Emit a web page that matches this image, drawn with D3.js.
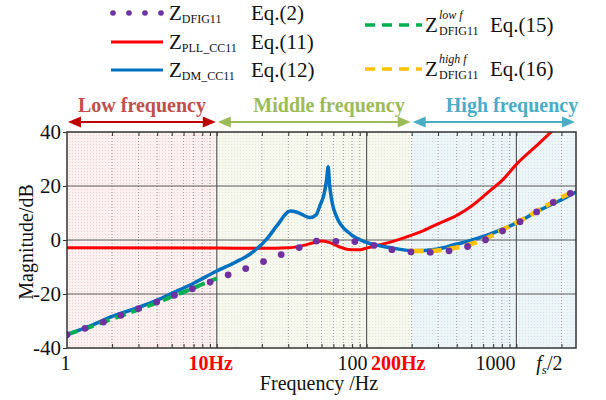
<!DOCTYPE html>
<html>
<head>
<meta charset="utf-8">
<script src="https://cdn.jsdelivr.net/npm/d3@7"></script>
<style>
  body { margin: 0; background: #fff; }
  svg text { font-family: "Liberation Serif", "Times New Roman", serif; }
</style>
</head>
<body>
<svg width="606" height="400"></svg>
<script>
// ---- data ----
const dfigF  = [1, 1.32, 1.75, 2.29, 3.0, 3.97, 5.21, 6.87, 9.02, 11.9, 15.6, 20.5, 26.9, 35.5, 46.3, 62.4, 83.5, 112, 147.6, 197.7, 266, 355, 472, 622, 809, 1057, 1365, 1763, 2290];
const dfigDb = [-35.1, -32.7, -30.4, -27.9, -25.4, -23.0, -20.5, -18.1, -15.6, -12.9, -10.6, -8.0, -5.4, -2.8, -0.4, -0.5, -0.6, -2.0, -3.6, -4.4, -4.6, -4.0, -2.4, 0.1, 3.4, 6.8, 10.4, 13.9, 17.3];

const pllF  = [1, 10, 20, 30, 38, 45, 50, 56, 65, 75, 90, 100, 120, 150, 200, 240, 300, 400, 500, 670, 800, 1000, 1400, 1800, 2500];
const pllDb = [-2.9, -3.0, -3.1, -2.9, -2.0, -0.9, -0.4, -0.9, -2.4, -3.5, -3.6, -3.0, -1.9, -0.5, 1.8, 3.5, 6.0, 9.1, 12.5, 18.4, 22.0, 28.0, 35.5, 41.2, 48];

const dmF  = [1, 1.5, 2, 3, 4, 5, 7, 10, 13, 16.7, 21.6, 25.2, 31, 34.3, 42, 46, 49, 52, 54, 55.4, 56.5, 58.5, 63.3, 78, 100, 143, 205, 292, 400, 489, 817, 1057, 1400, 1963, 2500];
const dmDb = [-35, -31.3, -28.3, -25, -22.3, -19.8, -16, -11.5, -8.5, -5.2, 0.4, 5.3, 10.7, 10.3, 8.3, 9.3, 13, 17, 22, 27.1, 21, 14.7, 8.4, 2.2, -0.9, -2.8, -4.0, -3.4, -1.5, -0.3, 4.1, 7.0, 10.8, 14.7, 17.8];

const lowF  = [1, 1.5, 2, 3, 4, 5, 6, 7, 8, 9, 10];
const lowDb = [-35, -31.8, -29.2, -25.8, -23.2, -21, -19.3, -17.8, -16.4, -15.2, -14.2];

const highF  = [200, 264, 355, 472, 622, 809, 1057, 1365, 1763, 2290, 2500];
const highDb = [-4.0, -4.1, -3.3, -1.8, 0.5, 3.8, 7.1, 10.6, 14.2, 17.3, 18.0];

const yTicks = [-40, -20, 0, 20, 40];
const xLabelValues = [1, 10, 100, 200, 1000, 2000];
const xLabelText = ["1", "10Hz", "100", "200Hz", "1000", "fs/2"];
const bands = [
  { from: 1, to: 10, name: "Low frequency" },
  { from: 10, to: 200, name: "Middle frequency" },
  { from: 200, to: 2500, name: "High frequency" }
];

const svg = d3.select("svg");
const pL = 67, pR = 576, pT = 132, pB = 348;
const serif = "Liberation Serif";

const x = d3.scaleLog().domain([1, 2500]).range([pL, pR]);
const y = d3.scaleLinear().domain([-40, 40]).range([pB, pT]);

// background patterns
const defs = svg.append("defs");
const bandStyle = [
  { base: "#fdf0f0", dot: "#efd0d0", arrow: "#c00000", text: "#c0504d", textX: 142 },
  { base: "#f6f8ef", dot: "#e0e8cf", arrow: "#9bbb59", text: "#9bbb59", textX: 329 },
  { base: "#edf5f9", dot: "#d2e4ee", arrow: "#4bacc6", text: "#4bacc6", textX: 512 }
];
bandStyle.forEach((s, i) => {
  const p = defs.append("pattern").attr("id", "pat" + i)
    .attr("width", 3).attr("height", 3).attr("patternUnits", "userSpaceOnUse");
  p.append("rect").attr("width", 3).attr("height", 3).attr("fill", s.base);
  p.append("rect").attr("width", 1).attr("height", 1).attr("fill", s.dot);
});
defs.append("clipPath").attr("id", "clip")
  .append("rect").attr("x", pL).attr("y", pT).attr("width", pR - pL).attr("height", pB - pT);

svg.selectAll(".band")
  .data(bands)
  .enter().append("rect")
  .attr("x", d => x(d.from))
  .attr("y", pT)
  .attr("width", d => x(d.to) - x(d.from))
  .attr("height", pB - pT)
  .attr("fill", (d, i) => "url(#pat" + i + ")");

// grid
const minor = [];
[1, 10, 100, 1000].forEach(dec => {
  for (let k = 2; k <= 9; k++) if (dec * k < 2500) minor.push(dec * k);
});
svg.append("g").selectAll("line")
  .data(minor)
  .enter().append("line")
  .attr("x1", d => x(d)).attr("x2", d => x(d))
  .attr("y1", pT).attr("y2", pB)
  .attr("stroke", "#9a9a9a").attr("stroke-width", 1)
  .attr("stroke-dasharray", "1,2");

svg.append("g").selectAll("line")
  .data([10, 100, 1000])
  .enter().append("line")
  .attr("x1", d => x(d)).attr("x2", d => x(d))
  .attr("y1", pT).attr("y2", pB)
  .attr("stroke", "#5a5a5a").attr("stroke-width", 1.2);

svg.append("g").selectAll("line")
  .data([-20, 0, 20])
  .enter().append("line")
  .attr("x1", pL).attr("x2", pR)
  .attr("y1", d => y(d)).attr("y2", d => y(d))
  .attr("stroke", "#5a5a5a").attr("stroke-width", 1.2);

// inward ticks top and bottom
const allTicks = minor.concat([10, 100, 1000]);
svg.append("g")
  .attr("transform", "translate(0," + pB + ")")
  .call(d3.axisBottom(x).tickValues(allTicks).tickSize(-4).tickFormat(""))
  .call(g => g.select(".domain").remove())
  .call(g => g.selectAll("line").attr("stroke", "#333"));
svg.append("g")
  .attr("transform", "translate(0," + pT + ")")
  .call(d3.axisTop(x).tickValues(allTicks).tickSize(-4).tickFormat(""))
  .call(g => g.select(".domain").remove())
  .call(g => g.selectAll("line").attr("stroke", "#333"));

// curves
const line = (fs, dbs) => d3.line()
  .x((d, i) => x(fs[i]))
  .y(d => y(d))
  .curve(d3.curveMonotoneX)(dbs);

const plot = svg.append("g").attr("clip-path", "url(#clip)");

plot.append("path").attr("d", line(pllF, pllDb))
  .attr("fill", "none").attr("stroke", "#ff0000").attr("stroke-width", 3);

plot.append("path").attr("d", line(dmF, dmDb))
  .attr("fill", "none").attr("stroke", "#0070c0").attr("stroke-width", 3.5);

plot.append("path").attr("d", line(lowF, lowDb))
  .attr("fill", "none").attr("stroke", "#00b050").attr("stroke-width", 4)
  .attr("stroke-dasharray", "11,6");

plot.append("path").attr("d", line(highF, highDb))
  .attr("fill", "none").attr("stroke", "#ffc000").attr("stroke-width", 4.5)
  .attr("stroke-dasharray", "12,6");

plot.selectAll(".dot")
  .data(dfigDb)
  .enter().append("circle")
  .attr("class", "dot")
  .attr("cx", (d, i) => x(dfigF[i]))
  .attr("cy", d => y(d))
  .attr("r", 3.4)
  .attr("fill", "#7030a0");

// frame
svg.append("rect")
  .attr("x", pL).attr("y", pT)
  .attr("width", pR - pL).attr("height", pB - pT)
  .attr("fill", "none").attr("stroke", "#333").attr("stroke-width", 1.5);

// y axis
const yAxis = svg.append("g")
  .attr("transform", "translate(" + pL + ",0)")
  .call(d3.axisLeft(y).tickValues(yTicks).tickSize(4).tickPadding(2).tickFormat(d => String(d)));
yAxis.attr("font-family", serif);
yAxis.select(".domain").remove();
yAxis.selectAll("line").attr("stroke", "#333");
yAxis.selectAll("text")
  .attr("font-family", serif).attr("font-size", 21).attr("fill", "#111");

// x labels
const xOffsets = { 1: [-1.5, "middle"], 10: [-6, "middle"], 100: [1, "end"], 200: [-13.5, "middle"], 1000: [-1, "end"], 2000: [1, "end"] };
const xl = svg.append("g").attr("font-family", serif);
xLabelValues.forEach((v, i) => {
  const t = xl.append("text")
    .attr("x", x(v) + xOffsets[v][0])
    .attr("y", 370)
    .attr("text-anchor", xOffsets[v][1])
    .attr("font-size", 20)
    .attr("fill", "#111");
  if (xLabelText[i].endsWith("Hz")) {
    t.attr("fill", "#ff0000").attr("font-weight", "bold").text(xLabelText[i]);
  } else if (xLabelText[i] === "fs/2") {
    t.append("tspan").attr("font-style", "italic").text("f");
    t.append("tspan").attr("font-style", "italic").attr("font-size", 13).attr("dy", 4).text("s");
    t.append("tspan").attr("dy", -4).text("/2");
  } else {
    t.text(xLabelText[i]);
  }
});

svg.append("text")
  .attr("x", 319).attr("y", 390)
  .attr("text-anchor", "middle").attr("font-size", 20).attr("fill", "#111")
  .text("Frequency /Hz");

svg.append("text")
  .attr("transform", "translate(33,242) rotate(-90)")
  .attr("text-anchor", "middle").attr("font-size", 20).attr("fill", "#111")
  .text("Magnitude/dB");

// frequency band arrows
const ay = 122;
bands.forEach((b, i) => {
  const s = bandStyle[i];
  const x0 = x(b.from) + 1, x1 = x(b.to) - 1;
  const g = svg.append("g");
  g.append("line").attr("x1", x0 + 8).attr("x2", x1 - 8).attr("y1", ay).attr("y2", ay)
    .attr("stroke", s.arrow).attr("stroke-width", 2.2);
  g.append("path").attr("d", `M${x0},${ay} L${x0 + 13},${ay - 5.5} L${x0 + 13},${ay + 5.5} Z`).attr("fill", s.arrow);
  g.append("path").attr("d", `M${x1},${ay} L${x1 - 13},${ay - 5.5} L${x1 - 13},${ay + 5.5} Z`).attr("fill", s.arrow);
  g.append("text").attr("x", s.textX).attr("y", 112)
    .attr("text-anchor", "middle").attr("font-size", 20).attr("font-weight", "bold")
    .attr("fill", s.text).text(b.name);
});

// legend
const leg = svg.append("g");
const legRows = [
  { y: 13, sub: "DFIG11", eq: "Eq.(2)", kind: "dots" },
  { y: 42, sub: "PLL_CC11", eq: "Eq.(11)", kind: "red" },
  { y: 70, sub: "DM_CC11", eq: "Eq.(12)", kind: "blue" }
];
legRows.forEach(r => {
  if (r.kind === "dots") {
    [113, 129, 145, 161].forEach(cx => leg.append("circle").attr("cx", cx).attr("cy", r.y).attr("r", 2.8).attr("fill", "#7030a0"));
  } else {
    leg.append("line").attr("x1", 111).attr("x2", 163).attr("y1", r.y).attr("y2", r.y)
      .attr("stroke", r.kind === "red" ? "#ff0000" : "#0070c0").attr("stroke-width", 3);
  }
  const t = leg.append("text").attr("x", 169).attr("y", r.y + 7).attr("font-size", 21).attr("fill", "#111");
  t.append("tspan").text("Z");
  t.append("tspan").attr("font-size", 12).attr("dy", 3).text(r.sub);
  leg.append("text").attr("x", 251).attr("y", r.y + 7).attr("font-size", 21).attr("fill", "#111").text(r.eq);
});
const legRight = [
  { y: 25, sup: "low f", eq: "Eq.(15)", color: "#00b050" },
  { y: 69, sup: "high f", eq: "Eq.(16)", color: "#ffc000" }
];
legRight.forEach(r => {
  leg.append("line").attr("x1", 365).attr("x2", 422).attr("y1", r.y).attr("y2", r.y)
    .attr("stroke", r.color).attr("stroke-width", 3.5).attr("stroke-dasharray", "10,7");
  leg.append("text").attr("x", 425).attr("y", r.y + 7).attr("font-size", 21).attr("fill", "#111").text("Z");
  leg.append("text").attr("x", 439).attr("y", r.y - 6).attr("font-size", 12).attr("font-style", "italic").attr("fill", "#111").text(r.sup);
  leg.append("text").attr("x", 439).attr("y", r.y + 10).attr("font-size", 12).attr("fill", "#111").text("DFIG11");
  leg.append("text").attr("x", 490).attr("y", r.y + 7).attr("font-size", 21).attr("fill", "#111").text(r.eq);
});
</script>
</body>
</html>
